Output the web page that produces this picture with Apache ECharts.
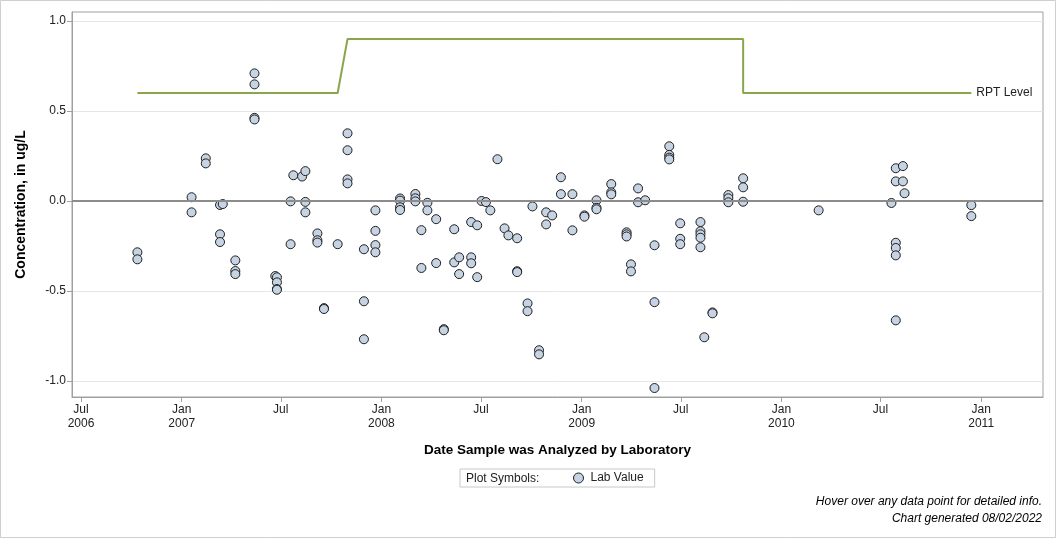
<!DOCTYPE html>
<html><head><meta charset="utf-8">
<script src="https://cdn.jsdelivr.net/npm/echarts@6/dist/echarts.min.js"></script>
<style>html,body{margin:0;padding:0;background:#fff}#c{width:1056px;height:538px}</style>
</head><body><div id="c"></div>
<script>
const labDates = [
 '2006-10-12','2006-10-12',
 '2007-01-19','2007-01-19',
 '2007-02-14','2007-02-14',
 '2007-03-12','2007-03-12','2007-03-12',
 '2007-03-17',
 '2007-04-09','2007-04-09','2007-04-09',
 '2007-05-14','2007-05-14','2007-05-14','2007-05-14',
 '2007-06-21',
 '2007-06-24','2007-06-24','2007-06-24','2007-06-24',
 '2007-07-19','2007-07-19',
 '2007-07-24',
 '2007-08-09',
 '2007-08-15','2007-08-15','2007-08-15',
 '2007-09-06','2007-09-06','2007-09-06',
 '2007-09-18','2007-09-18',
 '2007-10-13',
 '2007-10-31','2007-10-31','2007-10-31','2007-10-31',
 '2007-11-30','2007-11-30','2007-11-30',
 '2007-12-21','2007-12-21','2007-12-21','2007-12-21',
 '2008-02-04','2008-02-04','2008-02-04','2008-02-04',
 '2008-03-03','2008-03-03','2008-03-03',
 '2008-03-14','2008-03-14',
 '2008-03-25','2008-03-25',
 '2008-04-10','2008-04-10',
 '2008-04-24','2008-04-24',
 '2008-05-13','2008-05-13',
 '2008-05-22','2008-05-22',
 '2008-06-13','2008-06-13','2008-06-13',
 '2008-06-24','2008-06-24',
 '2008-07-02',
 '2008-07-10',
 '2008-07-18',
 '2008-07-31',
 '2008-08-13',
 '2008-08-20',
 '2008-09-05','2008-09-05','2008-09-05',
 '2008-09-24','2008-09-24',
 '2008-10-03',
 '2008-10-15','2008-10-15',
 '2008-10-28','2008-10-28',
 '2008-11-08',
 '2008-11-24','2008-11-24',
 '2008-12-15','2008-12-15',
 '2009-01-06','2009-01-06',
 '2009-01-28','2009-01-28','2009-01-28',
 '2009-02-24','2009-02-24','2009-02-24',
 '2009-03-24','2009-03-24','2009-03-24',
 '2009-04-01','2009-04-01',
 '2009-04-14','2009-04-14',
 '2009-04-27',
 '2009-05-14','2009-05-14','2009-05-14',
 '2009-06-10','2009-06-10','2009-06-10','2009-06-10',
 '2009-06-30','2009-06-30','2009-06-30',
 '2009-08-06','2009-08-06','2009-08-06','2009-08-06','2009-08-06',
 '2009-08-13',
 '2009-08-28','2009-08-28',
 '2009-09-26','2009-09-26','2009-09-26',
 '2009-10-23','2009-10-23','2009-10-23',
 '2010-03-10',
 '2010-07-21',
 '2010-07-29','2010-07-29','2010-07-29','2010-07-29','2010-07-29','2010-07-29',
 '2010-08-11','2010-08-11',
 '2010-08-14',
 '2010-12-14','2010-12-14'
];
const labValues = [
 -0.285,-0.324,
 0.021,-0.063,
 0.237,0.209,
 -0.022,-0.185,-0.228,
 -0.017,
 -0.330,-0.389,-0.406,
 0.709,0.648,0.462,0.453,
 -0.417,
 -0.424,-0.452,-0.489,-0.493,
 -0.002,-0.240,
 0.143,
 0.136,
 0.166,-0.005,-0.063,
 -0.180,-0.218,-0.231,
 -0.595,-0.600,
 -0.240,
 0.376,0.282,0.120,0.098,
 -0.268,-0.557,-0.768,
 -0.052,-0.166,-0.245,-0.285,
 0.014,0.002,-0.035,-0.050,
 0.039,0.015,-0.002,
 -0.162,-0.372,
 -0.010,-0.052,
 -0.101,-0.345,
 -0.712,-0.718,
 -0.157,-0.341,
 -0.313,-0.406,
 -0.117,-0.313,-0.346,
 -0.135,-0.423,
 0.000,
 -0.006,
 -0.052,
 0.232,
 -0.152,
 -0.191,
 -0.207,-0.390,-0.395,
 -0.569,-0.612,
 -0.030,
 -0.829,-0.852,
 -0.063,-0.130,
 -0.080,
 0.132,0.038,
 0.038,-0.163,
 -0.080,-0.087,
 0.004,-0.038,-0.046,
 0.094,0.048,0.037,
 -0.174,-0.185,-0.197,
 -0.352,-0.391,
 0.070,-0.007,
 0.004,
 -0.246,-0.562,-1.039,
 0.304,0.256,0.241,0.231,
 -0.124,-0.210,-0.240,
 -0.117,-0.168,-0.185,-0.204,-0.257,
 -0.757,
 -0.619,-0.624,
 0.033,0.015,-0.007,
 0.126,0.076,-0.004,
 -0.052,
 -0.011,
 0.182,0.109,-0.232,-0.261,-0.302,-0.663,
 0.194,0.109,
 0.043,
 -0.023,-0.084
];
const rptDates = ['2006-10-12','2007-10-13','2007-10-31','2009-10-23','2009-10-23','2010-12-14'];
const rptValues = [0.6,0.6,0.9,0.9,0.6,0.6];
const xTickDates = ['2006-07-01','2007-01-01','2007-07-01','2008-01-01','2008-07-01','2009-01-01','2009-07-01','2010-01-01','2010-07-01','2011-01-01'];
const xTickLabels = ['Jul\n2006','Jan\n2007','Jul','Jan\n2008','Jul','Jan\n2009','Jul','Jan\n2010','Jul','Jan\n2011'];
const yTickValues = [-1.0,-0.5,0.0,0.5,1.0];

const DAY = 86400000;
function ts(s){ const p = s.split('-').map(Number); return Date.UTC(p[0], p[1]-1, p[2]); }
const xTickMs = xTickDates.map(ts);
const FONT = 'Arial, "Liberation Sans", sans-serif';

const chart = echarts.init(document.getElementById('c'), null, {renderer: 'canvas'});
chart.setOption({
  animation: false,
  backgroundColor: '#fff',
  grid: {left: 72, right: 13, top: 12, bottom: 141, show: true, borderColor: '#a0a0a0', borderWidth: 1, containLabel: false},
  xAxis: {
    type: 'value',
    min: ts('2006-07-01') - 16.5*DAY,
    max: ts('2011-01-01') + 113*DAY,
    axisLine: {show: true, onZero: false, lineStyle: {color: '#a0a0a0'}},
    axisTick: {show: true, customValues: xTickMs, length: 5, lineStyle: {color: '#a0a0a0'}},
    axisLabel: {customValues: xTickMs, formatter: v => { const i = xTickMs.indexOf(v); return i >= 0 ? xTickLabels[i] : ''; },
      fontSize: 12, color: '#222', lineHeight: 14, margin: 6, fontFamily: FONT},
    splitLine: {show: false},
    name: 'Date Sample was Analyzed by Laboratory',
    nameLocation: 'middle', nameGap: 46,
    nameTextStyle: {fontSize: 13.5, fontWeight: 'bold', color: '#000', fontFamily: FONT}
  },
  yAxis: {
    type: 'value',
    min: (201-397)/180, max: (201-12)/180,
    axisLine: {show: true, onZero: false, lineStyle: {color: '#a0a0a0'}},
    axisTick: {show: true, customValues: yTickValues, length: 5, lineStyle: {color: '#a0a0a0'}},
    axisLabel: {customValues: yTickValues, formatter: v => v.toFixed(1), fontSize: 12, color: '#222', margin: 6, fontFamily: FONT},
    splitLine: {show: true, lineStyle: {color: '#e6e6e6'}},
    name: 'Concentration, in ug/L',
    nameLocation: 'middle', nameGap: 44, nameRotate: 90,
    nameTextStyle: {fontSize: 14, fontWeight: 'bold', color: '#000', fontFamily: FONT}
  },
  legend: {
    data: ['Lab Value'], left: 460, top: 469,
    borderColor: '#c8c8c8', borderWidth: 1, padding: [3, 11, 3, 113],
    itemWidth: 10, itemHeight: 10, itemGap: 10, icon: 'circle',
    itemStyle: {borderWidth: 1},
    textStyle: {fontSize: 12, color: '#222', fontFamily: FONT, padding: [0, 0, 0, 2]}
  },
  graphic: [
    {type: 'rect', shape: {x: 0.5, y: 0.5, width: 1055, height: 537}, style: {fill: 'none', stroke: '#cfcfcf', lineWidth: 1}, silent: true},
    {type: 'text', x: 466, y: 479, style: {text: 'Plot Symbols:', font: '12px ' + FONT, fill: '#222', textVerticalAlign: 'middle'}},
    {type: 'text', x: 1042, y: 502, style: {text: 'Hover over any data point for detailed info.', font: 'italic 12px ' + FONT, fill: '#000', textAlign: 'right', textVerticalAlign: 'middle'}},
    {type: 'text', x: 1042, y: 519, style: {text: 'Chart generated 08/02/2022', font: 'italic 12px ' + FONT, fill: '#000', textAlign: 'right', textVerticalAlign: 'middle'}}
  ],
  series: [
    {
      name: 'RPT Level', type: 'line', z: 2,
      data: rptDates.map((d, i) => [ts(d), rptValues[i]]),
      showSymbol: false, symbol: 'none',
      lineStyle: {color: '#8aa64c', width: 2},
      endLabel: {show: true, formatter: 'RPT Level', color: '#222', fontSize: 12, distance: 5, fontFamily: FONT},
      markLine: {silent: true, symbol: 'none', label: {show: false},
        lineStyle: {color: '#8c8c8c', width: 2, type: 'solid'}, data: [{yAxis: 0}]}
    },
    {
      name: 'Lab Value', type: 'scatter', z: 4,
      data: labDates.map((d, i) => [ts(d), labValues[i]]),
      symbol: 'circle', symbolSize: 9,
      itemStyle: {color: '#c6d3e3', borderColor: '#1e1e1e', borderWidth: 1, opacity: 1}
    }
  ]
});
</script></body></html>
